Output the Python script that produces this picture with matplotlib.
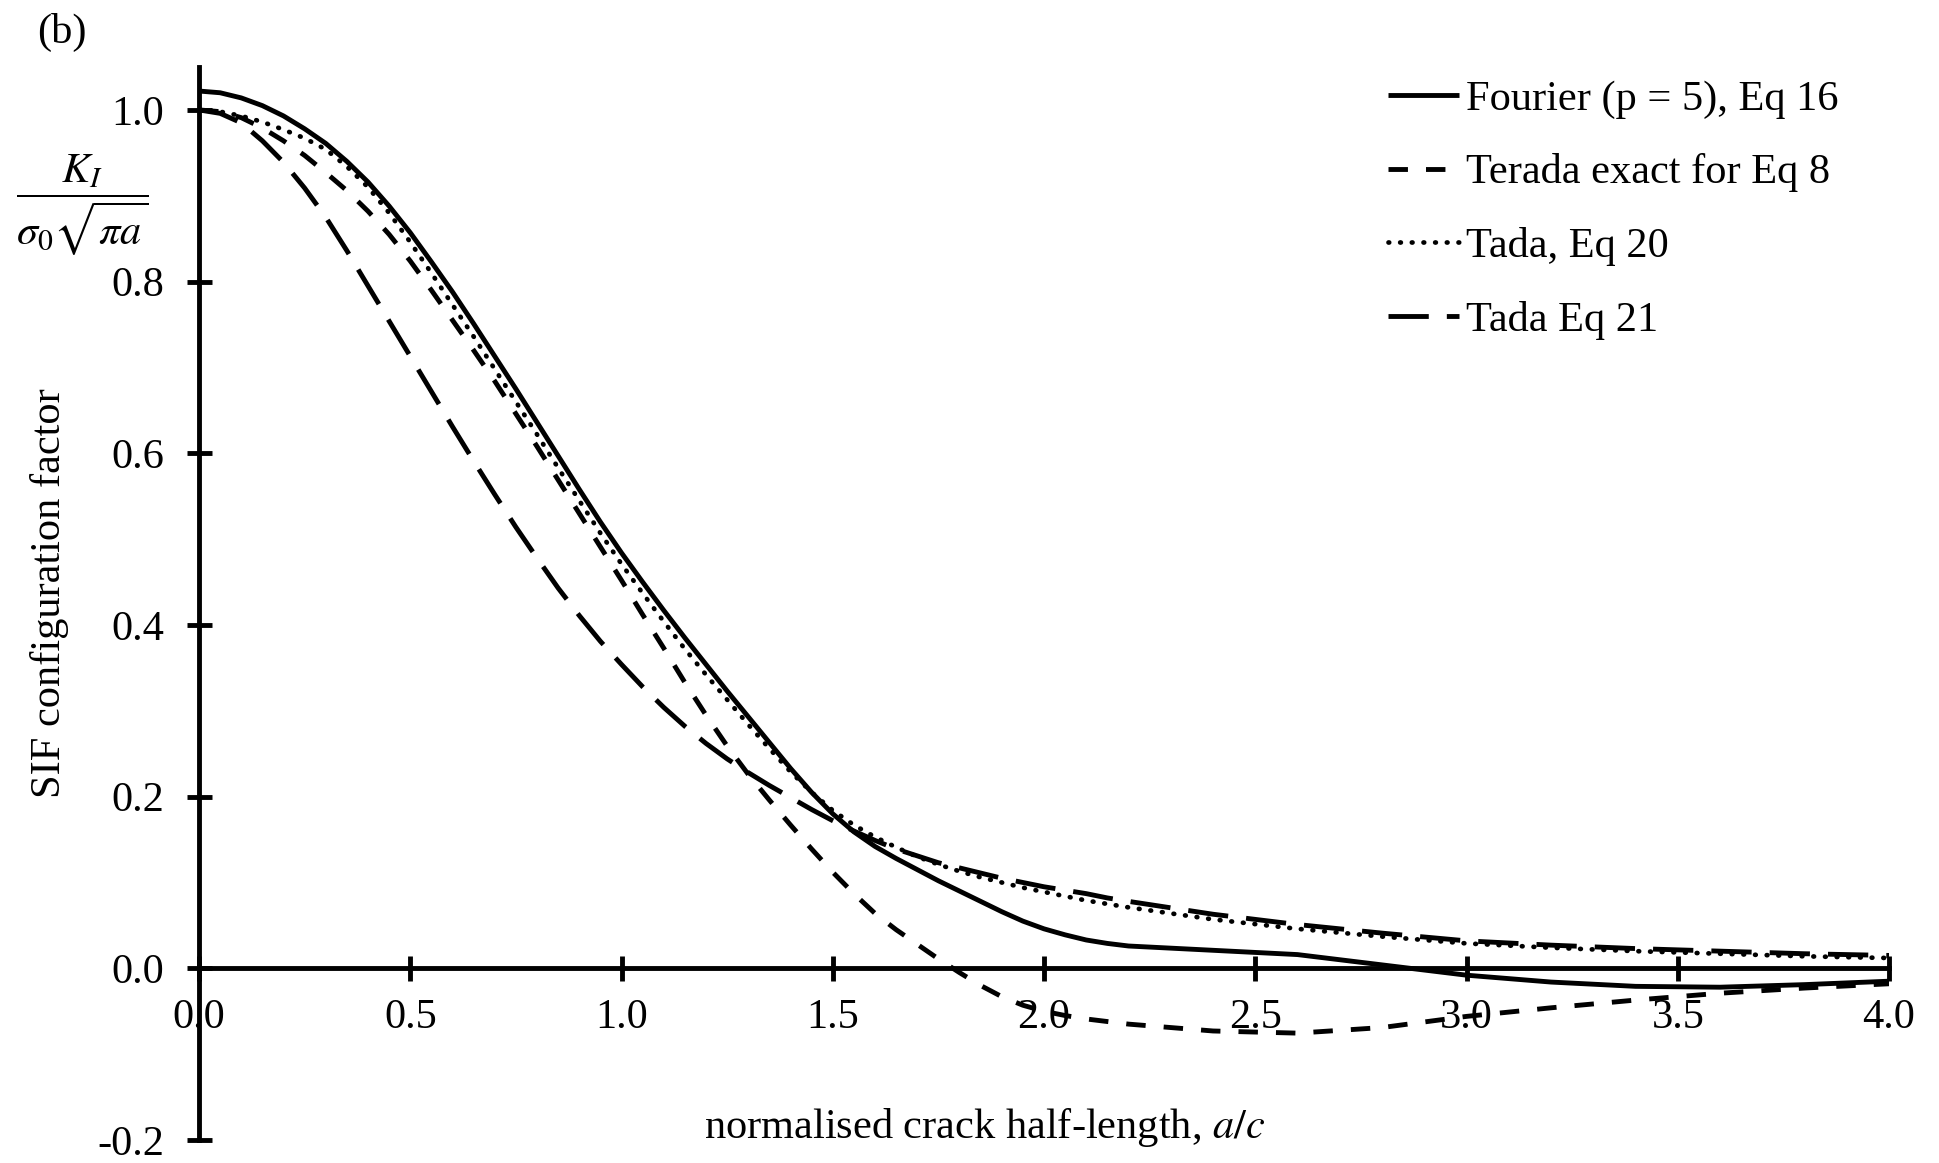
"""
SIF configuration factor vs normalised crack half-length (figure b)
"""
import matplotlib
matplotlib.use("Agg")
import matplotlib.pyplot as plt
import numpy as np

# ── Dados ─────────────────────────────────────────────────────────────────────

A_C = [0.0, 0.05, 0.1, 0.15, 0.2, 0.25, 0.3, 0.35, 0.4, 0.45, 0.5, 0.55, 0.6,
       0.65, 0.7, 0.75, 0.8, 0.85, 0.9, 0.95, 1.0, 1.05, 1.1, 1.15, 1.2, 1.25,
       1.3, 1.35, 1.4, 1.45, 1.5, 1.55, 1.6, 1.65, 1.7, 1.75, 1.8, 1.85, 1.9,
       1.95, 2.0, 2.05, 2.1, 2.15, 2.2, 2.4, 2.6, 2.8, 3.0, 3.2, 3.4, 3.6,
       3.8, 4.0]

FOURIER = [1.022, 1.020, 1.014, 1.005, 0.993, 0.978, 0.961, 0.940, 0.916, 0.888,
           0.857, 0.823, 0.788, 0.751, 0.713, 0.675, 0.636, 0.597, 0.558, 0.520,
           0.484, 0.450, 0.417, 0.385, 0.354, 0.323, 0.293, 0.263, 0.233, 0.205,
           0.180, 0.159, 0.142, 0.128, 0.115, 0.102, 0.090, 0.078, 0.066, 0.055,
           0.046, 0.039, 0.033, 0.029, 0.026, 0.021, 0.016, 0.004, -0.008,
           -0.016, -0.021, -0.022, -0.019, -0.015]

TERADA = [1.000, 0.998, 0.991, 0.979, 0.964, 0.947, 0.927, 0.906, 0.882, 0.855,
          0.824, 0.790, 0.755, 0.720, 0.684, 0.646, 0.608, 0.569, 0.530, 0.491,
          0.452, 0.412, 0.373, 0.333, 0.295, 0.259, 0.226, 0.196, 0.167, 0.139,
          0.112, 0.087, 0.064, 0.045, 0.028, 0.011, -0.005, -0.020, -0.033,
          -0.043, -0.050, -0.055, -0.059, -0.062, -0.065, -0.073, -0.0755,
          -0.069, -0.056, -0.046, -0.037, -0.029, -0.023, -0.018]

TADA_20 = [1.000, 0.998, 0.993, 0.986, 0.977, 0.967, 0.954, 0.934, 0.910, 0.880,
           0.846, 0.810, 0.773, 0.736, 0.698, 0.660, 0.622, 0.583, 0.545, 0.507,
           0.471, 0.437, 0.404, 0.372, 0.342, 0.313, 0.284, 0.256, 0.229, 0.205,
           0.184, 0.167, 0.153, 0.141, 0.130, 0.121, 0.113, 0.106, 0.100, 0.094,
           0.089, 0.084, 0.079, 0.075, 0.071, 0.057, 0.046, 0.037, 0.029, 0.024,
           0.020, 0.017, 0.014, 0.012]

TADA_21 = [1.000, 0.996, 0.985, 0.964, 0.939, 0.909, 0.875, 0.836, 0.795, 0.754,
           0.713, 0.672, 0.631, 0.591, 0.552, 0.514, 0.478, 0.443, 0.411, 0.381,
           0.354, 0.328, 0.304, 0.282, 0.262, 0.244, 0.228, 0.213, 0.199, 0.185,
           0.172, 0.160, 0.149, 0.139, 0.131, 0.123, 0.117, 0.111, 0.105, 0.100,
           0.095, 0.091, 0.087, 0.082, 0.078, 0.063, 0.051, 0.041, 0.032, 0.027,
           0.023, 0.020, 0.017, 0.015]

LABELS = ["Fourier (p = 5), Eq 16", "Terada exact for Eq 8",
          "Tada, Eq 20", "Tada Eq 21"]

X_TICKS = np.arange(0, 4.01, 0.5)
Y_TICKS = np.arange(-0.2, 1.01, 0.2)

# ── Estilo ────────────────────────────────────────────────────────────────────

plt.rcParams["font.family"] = ["Liberation Serif", "DejaVu Serif"]
plt.rcParams["mathtext.fontset"] = "stix"
plt.rcParams["axes.unicode_minus"] = False
plt.rcParams["lines.scale_dashes"] = False

FS = 30.5
LW = 3.5
W, H = 1939, 1163

fig = plt.figure(figsize=(W / 100, H / 100), dpi=100)
ax = fig.add_axes([199 / W, 23 / H, 1690 / W, 1073 / H])

ax.plot(A_C, FOURIER, color="black", lw=LW, solid_capstyle="butt",
        solid_joinstyle="round", label=LABELS[0])
ax.plot(A_C, TERADA, color="black", lw=LW, dashes=(14, 13),
        dash_capstyle="butt", label=LABELS[1])
ax.plot(A_C, TADA_20, color="black", lw=3.4, dashes=(0.5, 7.9),
        dash_capstyle="round", label=LABELS[2])
ax.plot(A_C, TADA_21, color="black", lw=LW, dashes=(29, 13),
        dash_capstyle="butt", label=LABELS[3])

ax.set_xlim(0, 4)
ax.set_ylim(-0.2, 1.05)
ax.spines["bottom"].set_position(("data", 0))
ax.spines["top"].set_visible(False)
ax.spines["right"].set_visible(False)
for s in ("left", "bottom"):
    ax.spines[s].set_linewidth(LW)

ax.set_xticks(X_TICKS)
ax.set_xticklabels([f"{v:.1f}" for v in X_TICKS])
ax.set_yticks(Y_TICKS)
ax.set_yticklabels([f"{v:.1f}" for v in Y_TICKS])
ax.tick_params(axis="both", direction="inout", length=18, width=LW,
               labelsize=FS)
ax.tick_params(axis="x", pad=13)
ax.tick_params(axis="y", pad=16)

ax.legend(loc="upper left", bbox_to_anchor=(1388 / W, 1 - 80 / H),
          bbox_transform=fig.transFigure, frameon=False, fontsize=FS,
          handlelength=1.68, handletextpad=0.17, labelspacing=0.82,
          borderpad=0, borderaxespad=0)

fig.text(62 / W, 1 - 32 / H, "(b)", ha="center", va="center", fontsize=FS)
fig.text(82 / W, 1 - 205 / H, r"$\dfrac{K_I}{\sigma_0\sqrt{\pi a}}$",
         ha="center", va="center", fontsize=FS)
fig.text(50 / W, 1 - 593 / H, "SIF configuration factor", rotation=90,
         ha="center", va="center", fontsize=FS)
fig.text(704 / W, 1 - 1138 / H, "normalised crack half-length, $a/c$",
         ha="left", va="baseline", fontsize=FS)

fig.savefig("out.png", dpi=100)
